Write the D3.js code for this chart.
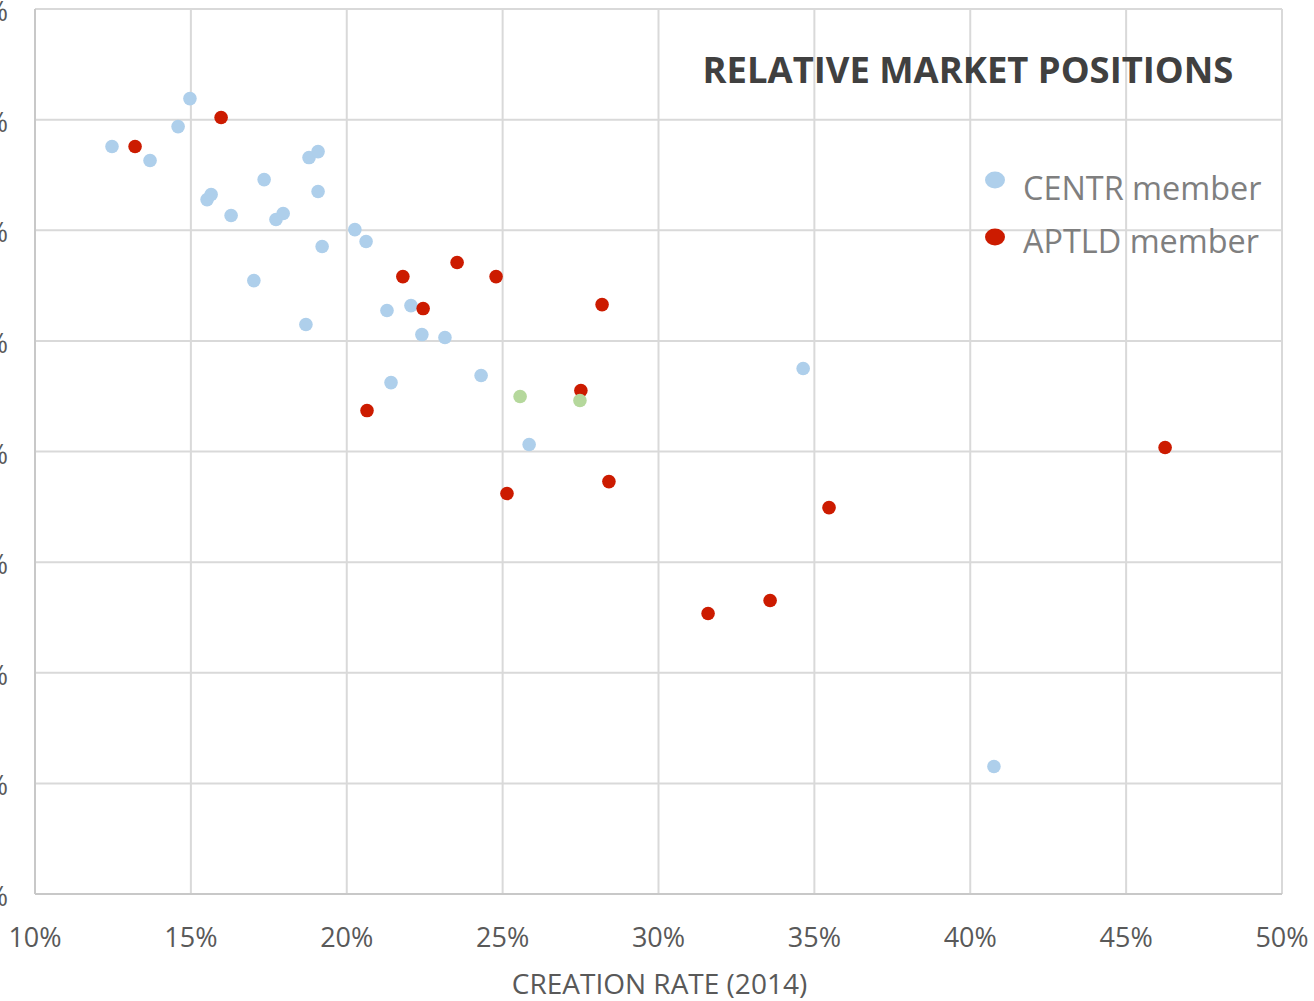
<!DOCTYPE html>
<html>
<head>
<meta charset="utf-8">
<script src="https://cdn.jsdelivr.net/npm/d3@7"></script>
<style>
  body { margin: 0; background: #fff; }
  svg { display: block; }
  text { font-family: "Open Sans", "Liberation Sans", sans-serif; }
</style>
</head>
<body>
<div id="chart"></div>
<script>
// creation rate (x) and relative position (y), both in %
const centrX = [14.97, 14.59, 12.47, 13.69, 18.79, 19.08, 17.35, 19.08, 15.52, 15.65, 16.29, 17.73, 17.96, 20.26, 20.62, 19.21, 17.02, 18.69, 21.29, 22.06, 22.41, 23.15, 21.42, 24.31, 34.64, 25.85, 40.76];
const centrY = [71.90, 69.37, 67.57, 66.30, 66.57, 67.11, 64.58, 63.50, 62.77, 63.23, 61.33, 60.97, 61.51, 60.06, 58.98, 58.53, 55.45, 51.48, 52.74, 53.19, 50.57, 50.30, 46.23, 46.87, 47.50, 40.63, 11.52];
const aptldX = [15.97, 13.21, 21.80, 23.54, 24.79, 22.45, 28.19, 27.51, 20.65, 25.14, 28.41, 46.25, 35.47, 31.59, 33.58];
const aptldY = [70.19, 67.57, 55.81, 57.08, 55.81, 52.92, 53.28, 45.51, 43.70, 36.20, 37.28, 40.36, 34.93, 25.35, 26.53];
const bothX = [25.56, 27.48];
const bothY = [44.97, 44.61];

const xTicks = [10, 15, 20, 25, 30, 35, 40, 45, 50];
const yTicks = [0, 10, 20, 30, 40, 50, 60, 70, 80];

const series = [
  {name: "CENTR member", xs: centrX, ys: centrY, color: "#aecfeb", legend: true},
  {name: "APTLD member", xs: aptldX, ys: aptldY, color: "#cc1b00", legend: true},
  {name: "both", xs: bothX, ys: bothY, color: "#b5d89c", legend: false}
];

const width = 1314, height = 1001;
const margin = {top: 9, right: 32, bottom: 107, left: 35};

const svg = d3.select("#chart").append("svg")
  .attr("width", width)
  .attr("height", height);

const x = d3.scaleLinear().domain([10, 50]).range([margin.left, width - margin.right]);
const y = d3.scaleLinear().domain([0, 80]).range([height - margin.bottom, margin.top]);

// gridlines
svg.append("g")
  .selectAll("line.v")
  .data(xTicks.slice(1))
  .enter().append("line")
    .attr("x1", d => x(d)).attr("x2", d => x(d))
    .attr("y1", y(80)).attr("y2", y(0))
    .style("stroke", "#d9d9d9").style("stroke-width", 2);

svg.append("g")
  .selectAll("line.h")
  .data(yTicks.slice(1))
  .enter().append("line")
    .attr("x1", x(10)).attr("x2", x(50))
    .attr("y1", d => y(d)).attr("y2", d => y(d))
    .style("stroke", "#d9d9d9").style("stroke-width", 2);

// axis lines
svg.append("line")
  .attr("x1", x(10)).attr("x2", x(10)).attr("y1", y(80)).attr("y2", y(0))
  .style("stroke", "#c8c8c8").style("stroke-width", 2);
svg.append("line")
  .attr("x1", x(10)).attr("x2", x(50)).attr("y1", y(0)).attr("y2", y(0))
  .style("stroke", "#c8c8c8").style("stroke-width", 2);

// tick labels
svg.append("g")
  .selectAll("text")
  .data(xTicks)
  .enter().append("text")
    .attr("x", d => x(d))
    .attr("y", y(0) + 53)
    .attr("text-anchor", "middle")
    .style("font-size", "27px")
    .style("fill", "#595959")
    .text(d => d + "%");

// y labels sit past the left edge, as in the original
svg.append("g")
  .selectAll("text")
  .data(yTicks)
  .enter().append("text")
    .attr("x", 8)
    .attr("y", d => y(d) + 12)
    .attr("text-anchor", "end")
    .style("font-size", "27px")
    .style("fill", "#595959")
    .text(d => d + "%");

// axis title
svg.append("text")
  .attr("x", (x(10) + x(50)) / 2 + 1)
  .attr("y", height - 7)
  .attr("text-anchor", "middle")
  .style("font-size", "28px")
  .style("fill", "#595959")
  .text("CREATION RATE (2014)");

// points
series.forEach(s => {
  svg.append("g")
    .selectAll("circle")
    .data(s.xs.map((v, i) => [v, s.ys[i]]))
    .enter().append("circle")
      .attr("cx", d => x(d[0]))
      .attr("cy", d => y(d[1]))
      .attr("r", 6.8)
      .style("fill", s.color);
});

// title
svg.append("text")
  .attr("x", 968)
  .attr("y", 83)
  .attr("text-anchor", "middle")
  .style("font-size", "36.4px")
  .style("font-weight", "bold")
  .style("fill", "#404040")
  .text("RELATIVE MARKET POSITIONS");

// legend
const legend = svg.append("g");
series.filter(s => s.legend).forEach((s, i) => {
  legend.append("ellipse")
    .attr("cx", 995)
    .attr("cy", 180 + i * 57)
    .attr("rx", 10).attr("ry", 8.5)
    .style("fill", s.color);
  legend.append("text")
    .attr("x", 1023)
    .attr("y", 200 + i * 53)
    .style("font-size", "32.4px")
    .style("fill", "#7f7f7f")
    .text(s.name);
});
</script>
</body>
</html>
